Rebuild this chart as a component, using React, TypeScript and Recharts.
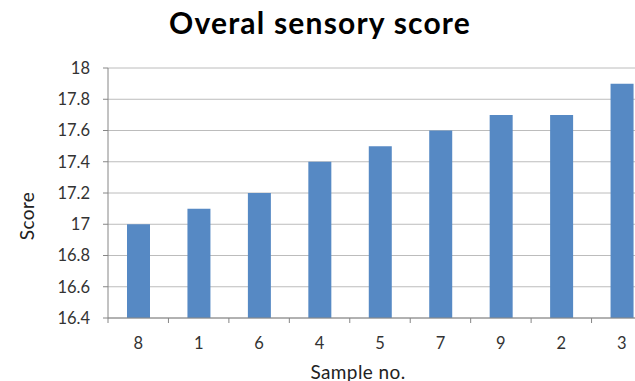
import React from "react"
import { BarChart, Bar, XAxis, YAxis, CartesianGrid } from "recharts"

const samples = ["8", "1", "6", "4", "5", "7", "9", "2", "3"]
const scores = [17.0, 17.1, 17.2, 17.4, 17.5, 17.6, 17.7, 17.7, 17.9]
const yTicks = [16.4, 16.6, 16.8, 17, 17.2, 17.4, 17.6, 17.8, 18]

const data = samples.map((s, i) => ({ sample: s, score: scores[i] }))

const FONT = "Lato, 'Open Sans', sans-serif"
const AXIS = "#868686"

// Excel-style x ticks: tick marks sit on the category boundaries, labels in the middle
function SampleTick(props: any) {
  const { x, y, payload, visibleTicksCount } = props
  const plotW = 652 - 108
  const band = plotW / (visibleTicksCount || samples.length)
  const axisY = y - 5 - 2
  const bx = x - band / 2
  return (
    <g>
      <line x1={bx} x2={bx} y1={axisY} y2={axisY + 5} stroke={AXIS} />
      <text x={x} y={axisY + 31} textAnchor="middle" fill="#333" fontSize={16.5} fontFamily={FONT}>
        {payload.value}
      </text>
    </g>
  )
}

export default function App() {
  return (
    <div style={{ position: "absolute", left: 0, top: 0, width: 635, height: 381, overflow: "hidden", background: "#fff" }}>
      <div style={{ position: "absolute", left: 0, width: 640, top: 4, textAlign: "center", fontFamily: FONT, fontWeight: 700, fontSize: 30, letterSpacing: 1.2, color: "#000" }}>
        Overal sensory score
      </div>
      <div style={{ position: "absolute", left: 26, top: 216, transform: "translate(-50%, -50%) rotate(-90deg)", fontFamily: FONT, fontSize: 19, letterSpacing: 0.4, color: "#222" }}>
        Score
      </div>
      <div style={{ position: "absolute", left: 358, top: 371, transform: "translate(-50%, -50%)", fontFamily: FONT, fontSize: 19, letterSpacing: 0.4, color: "#222", whiteSpace: "nowrap" }}>
        Sample no.
      </div>
      <BarChart
        width={652}
        height={381}
        data={data}
        margin={{ top: 68, right: 0, left: 0, bottom: 33 }}
        barSize={23}
        style={{ position: "absolute", left: 0, top: 0 }}
      >
        <CartesianGrid vertical={false} stroke="#bcbcbc" />
        <XAxis
          dataKey="sample"
          height={30}
          axisLine={{ stroke: AXIS }}
          tickLine={false}
          tickSize={5}
          tickMargin={2}
          interval={0}
          tick={<SampleTick />}
        />
        <YAxis
          width={108}
          domain={[16.4, 18]}
          ticks={yTicks}
          allowDataOverflow
          axisLine={{ stroke: AXIS }}
          tickLine={{ stroke: AXIS }}
          tickSize={5}
          tickMargin={13}
          tickFormatter={(v: number) => String(Math.round(v * 10) / 10)}
          tick={{ fontSize: 16.5, fill: "#333", fontFamily: FONT }}
        />
        <Bar dataKey="score" fill="#5689c4" isAnimationActive={false} />
      </BarChart>
    </div>
  )
}
